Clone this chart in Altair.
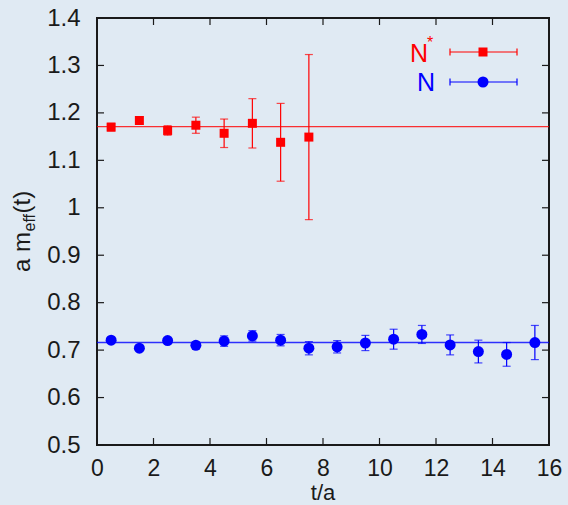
import altair as alt
import pandas as pd

# ---- data ----
nstar_t = [0.5, 1.5, 2.5, 3.5, 4.5, 5.5, 6.5, 7.5]
nstar_m = [1.170, 1.184, 1.163, 1.174, 1.157, 1.178, 1.138, 1.149]
nstar_e = [0.008, 0.008, 0.010, 0.017, 0.030, 0.052, 0.082, 0.174]

n_t = [0.5, 1.5, 2.5, 3.5, 4.5, 5.5, 6.5, 7.5, 8.5, 9.5, 10.5, 11.5, 12.5, 13.5, 14.5, 15.5]
n_m = [0.721, 0.704, 0.720, 0.710, 0.719, 0.730, 0.721, 0.704, 0.707, 0.715,
       0.723, 0.733, 0.711, 0.697, 0.691, 0.716]
n_e = [0.005, 0.005, 0.005, 0.007, 0.011, 0.011, 0.012, 0.014, 0.013, 0.016,
       0.021, 0.019, 0.021, 0.024, 0.025, 0.036]

fit_nstar = 1.171
fit_n = 0.716
fit_range = [0, 16]

x_ticks = [0, 2, 4, 6, 8, 10, 12, 14, 16]
y_ticks = [0.5, 0.6, 0.7, 0.8, 0.9, 1.0, 1.1, 1.2, 1.3, 1.4]

RED = "#ff0000"
BLUE = "#0000ff"
BG = "#e0eaf3"
INK = "#1a1a1a"
FONT = "Liberation Sans"
FS = 24
W, H = 452, 427

# ---- tables ----
def pts(t, m, e, name):
    df = pd.DataFrame({"t": t, "m": m, "e": e})
    df["lo"] = df["m"] - df["e"]
    df["hi"] = df["m"] + df["e"]
    df["s"] = name
    return df

red = pts(nstar_t, nstar_m, nstar_e, "N*")
blue = pts(n_t, n_m, n_e, "N")

def caps(df):
    a = df[["t", "lo"]].rename(columns={"lo": "y"})
    b = df[["t", "hi"]].rename(columns={"hi": "y"})
    return pd.concat([a, b], ignore_index=True)

fits = pd.DataFrame({"x0": [fit_range[0]] * 2, "x1": [fit_range[1]] * 2,
                     "y": [fit_nstar, fit_n], "c": [RED, BLUE]})

xs = alt.Scale(domain=[0, 16], nice=False, zero=False)
ys = alt.Scale(domain=[0.5, 1.4], nice=False, zero=False)

xaxis = alt.Axis(values=x_ticks, title=None, tickSize=0, domain=False,
                 grid=False, labelPadding=12,
                 labelFontSize=23, labelFont=FONT, labelColor=INK,
                 labelFlush=False)
yaxis = alt.Axis(values=y_ticks, title=None, tickSize=0, domain=False,
                 grid=False, labelPadding=17, labelFontSize=FS,
                 labelFont=FONT, labelColor=INK, labelFlush=False,
                 labelExpr="datum.value == 1 ? '1' : format(datum.value, '.1f')")

def XF(f):
    return alt.X(f, scale=xs, axis=xaxis, title=None)

def YF(f):
    return alt.Y(f, scale=ys, axis=yaxis, title=None)

layers = []

# fit lines
layers.append(alt.Chart(fits).mark_rule(strokeWidth=1.3, opacity=0.8).encode(
    x=XF("x0:Q"), x2="x1:Q", y=YF("y:Q"), color=alt.Color("c:N", scale=None)))

for df, col, shape, size in [(red, RED, "square", 81), (blue, BLUE, "circle", 121)]:
    base = alt.Chart(df)
    layers.append(base.mark_rule(color=col, strokeWidth=1.2).encode(
        x=XF("t:Q"), y=YF("lo:Q"), y2="hi:Q"))
    layers.append(alt.Chart(caps(df)).mark_tick(color=col, orient="horizontal", size=8, thickness=1.2).encode(
        x=XF("t:Q"), y=YF("y:Q")))
    layers.append(base.mark_point(shape=shape, filled=True, color=col, size=size, opacity=1).encode(
        x=XF("t:Q"), y=YF("m:Q")))

# inward tick marks on all four sides
ytk = pd.DataFrame({"v": y_ticks})
xtk = pd.DataFrame({"v": x_ticks})
for a, b in [(0, 7), (W - 7, W)]:
    layers.append(alt.Chart(ytk).mark_rule(color=INK, strokeWidth=1.2).encode(
        y=YF("v:Q"), x=alt.value(a), x2=alt.value(b)))
for a, b in [(H - 7, H), (0, 7)]:
    layers.append(alt.Chart(xtk).mark_rule(color=INK, strokeWidth=1.2).encode(
        x=XF("v:Q"), y=alt.value(a), y2=alt.value(b)))

one = pd.DataFrame({"k": [0]})

# legend (drawn by hand, labels left of samples)
for ly, col, shape, size in [(34, RED, "square", 81), (64, BLUE, "circle", 121)]:
    layers.append(alt.Chart(one).mark_rule(color=col, strokeWidth=1.2).encode(
        x=alt.value(353), x2=alt.value(420), y=alt.value(ly)))
    for cx in (353, 420):
        layers.append(alt.Chart(one).mark_rule(color=col, strokeWidth=1.2).encode(
            x=alt.value(cx), y=alt.value(ly - 3.5), y2=alt.value(ly + 3.5)))
    layers.append(alt.Chart(one).mark_point(shape=shape, filled=True, color=col, size=size, opacity=1).encode(
        x=alt.value(386), y=alt.value(ly)))

layers.append(alt.Chart(one).mark_text(font=FONT, fontSize=25, color=RED, align="right", baseline="alphabetic").encode(
    x=alt.value(331), y=alt.value(44), text=alt.value("N")))
layers.append(alt.Chart(one).mark_text(font=FONT, fontSize=16, color=RED, align="left", baseline="alphabetic").encode(
    x=alt.value(330), y=alt.value(29.5), text=alt.value("*")))
layers.append(alt.Chart(one).mark_text(font=FONT, fontSize=25, color=BLUE, align="right", baseline="alphabetic").encode(
    x=alt.value(338), y=alt.value(73), text=alt.value("N")))

# x-axis title
layers.append(alt.Chart(one).mark_text(font=FONT, fontSize=22, color=INK, align="center", baseline="alphabetic").encode(
    x=alt.value(W / 2), y=alt.value(482), text=alt.value("t/a")))

# y-axis title "a m_eff(t)" built from pieces, rotated
ybase = 254
layers.append(alt.Chart(one).mark_text(font=FONT, fontSize=FS, color=INK, align="left", baseline="alphabetic", angle=270).encode(
    x=alt.value(-67), y=alt.value(ybase), text=alt.value("a m")))
layers.append(alt.Chart(one).mark_text(font=FONT, fontSize=16, color=INK, align="left", baseline="alphabetic", angle=270).encode(
    x=alt.value(-62), y=alt.value(ybase - 40.5), text=alt.value("eff")))
layers.append(alt.Chart(one).mark_text(font=FONT, fontSize=FS, color=INK, align="left", baseline="alphabetic", angle=270).encode(
    x=alt.value(-67), y=alt.value(ybase - 58.5), text=alt.value("(t)")))

chart = alt.layer(*layers).properties(
    width=W, height=H, background=BG,
    autosize=alt.AutoSizeParams(type="none"),
    padding={"left": 97, "top": 18, "right": 19, "bottom": 60},
).configure_view(stroke=INK, strokeWidth=2)

chart.save("out.html", embed_options={"renderer": "svg", "actions": False})
